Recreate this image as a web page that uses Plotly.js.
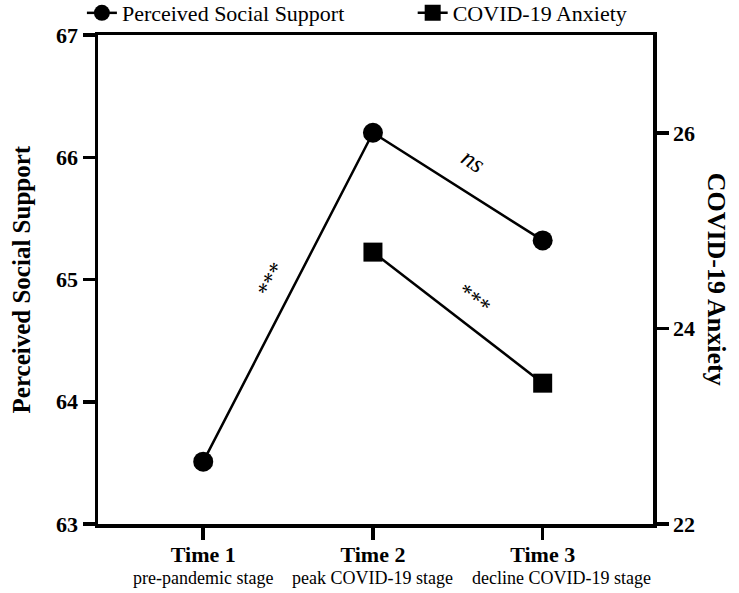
<!DOCTYPE html>
<html>
<head>
<meta charset="utf-8">
<script src="https://cdn.plot.ly/plotly-3.0.1.min.js"></script>
<style>html,body{margin:0;padding:0;background:#fff;}#chart{width:739px;height:593px;}</style>
</head>
<body>
<div id="chart"></div>
<script>
var timeIndex = [0, 1, 2];
var timeLabels = ["Time 1", "Time 2", "Time 3"];
var stageLabels = ["pre-pandemic stage", "peak COVID-19 stage", "decline COVID-19 stage"];
var socialSupport = [63.51, 66.20, 65.32];
var anxietyTimes = [1, 2];
var anxiety = [24.78, 23.44];
var leftTicks = [63, 64, 65, 66, 67];
var rightTicks = [22, 24, 26];

var FONT = "Liberation Serif, Times New Roman, serif";
function boldList(arr) { return arr.map(function (v) { return "<b>" + v + "</b>"; }); }

var traces = [
  {
    x: timeIndex, y: socialSupport, name: "Perceived Social Support",
    type: "scatter", mode: "lines+markers",
    line: {color: "#000", width: 2.5},
    marker: {symbol: "circle", size: 20, color: "#000"},
    yaxis: "y", legend: "legend"
  },
  {
    x: anxietyTimes, y: anxiety, name: "COVID-19 Anxiety",
    type: "scatter", mode: "lines+markers",
    line: {color: "#000", width: 2.5},
    marker: {symbol: "square", size: 19, color: "#000"},
    yaxis: "y2", legend: "legend2"
  }
];

var stageShift = [0, 0, 19];
var annotations = [
  {xref: "paper", yref: "paper", x: -0.137, y: 0.5, xanchor: "center", yanchor: "middle",
   text: "<b>Perceived Social Support</b>", textangle: -90,
   showarrow: false, font: {family: FONT, size: 25, color: "#000"}},
  {xref: "paper", yref: "paper", x: 1.115, y: 0.5, xanchor: "center", yanchor: "middle",
   text: "<b>COVID-19 Anxiety</b>", textangle: 90,
   showarrow: false, font: {family: FONT, size: 26, color: "#000"}},
  {xref: "x", yref: "y", x: 0.4, y: 65.0, text: "***", textangle: -62, showarrow: false,
   font: {family: FONT, size: 23, color: "#000"}},
  {xref: "x", yref: "y", x: 1.59, y: 65.97, text: "<i>ns</i>", textangle: 33, showarrow: false,
   font: {family: FONT, size: 25, color: "#000"}},
  {xref: "x", yref: "y", x: 1.6, y: 64.84, text: "***", textangle: 38, showarrow: false,
   font: {family: FONT, size: 23, color: "#000"}}
];
stageLabels.forEach(function (s, i) {
  annotations.push({xref: "x", yref: "paper", x: timeIndex[i], y: -0.11, xanchor: "center", yanchor: "middle",
    xshift: stageShift[i], text: s, showarrow: false, font: {family: FONT, size: 18, color: "#000"}});
});

var legendCommon = {
  orientation: "h", yref: "container", y: 0.978, xanchor: "left", yanchor: "middle",
  font: {family: FONT, size: 22, color: "#000"},
  itemsizing: "trace", bgcolor: "rgba(0,0,0,0)"
};

var layout = {
  width: 739, height: 593,
  margin: {l: 98, r: 86, t: 35, b: 69, autoexpand: false},
  paper_bgcolor: "#fff", plot_bgcolor: "#fff",
  font: {family: FONT, color: "#000"},
  showlegend: true,
  legend: Object.assign({}, legendCommon, {x: -0.029}),
  legend2: Object.assign({}, legendCommon, {x: 0.567}),
  xaxis: {
    range: [-0.62, 2.65], tickvals: timeIndex, ticktext: boldList(timeLabels),
    showline: true, linecolor: "#000", linewidth: 3.5, mirror: true,
    ticks: "outside", ticklen: 12, tickwidth: 3.5, tickcolor: "#000", ticklabelstandoff: -4,
    showgrid: false, zeroline: false,
    tickfont: {family: FONT, size: 22, color: "#000"}
  },
  yaxis: {
    range: [63, 67], tickvals: leftTicks, ticktext: boldList(leftTicks),
    showline: true, linecolor: "#000", linewidth: 3.5,
    ticks: "outside", ticklen: 12, tickwidth: 3.5, tickcolor: "#000",
    showgrid: false, zeroline: false,
    tickfont: {family: FONT, size: 22, color: "#000"}
  },
  yaxis2: {
    range: [22, 27], tickvals: rightTicks, ticktext: boldList(rightTicks), overlaying: "y", side: "right",
    showline: true, linecolor: "#000", linewidth: 3.5,
    ticks: "outside", ticklen: 12, tickwidth: 3.5, tickcolor: "#000",
    showgrid: false, zeroline: false,
    tickfont: {family: FONT, size: 22, color: "#000"}
  },
  annotations: annotations
};

Plotly.newPlot("chart", traces, layout, {staticPlot: true, displayModeBar: false});
</script>
</body>
</html>
